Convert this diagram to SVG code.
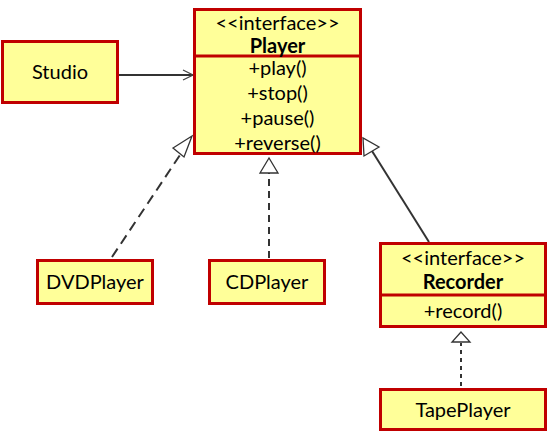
<svg xmlns="http://www.w3.org/2000/svg" width="548" height="436" viewBox="0 0 548 436">
<style>
.box{fill:#ffff99;stroke:#c00000;stroke-width:3}
.t{font-family:Lato,"Open Sans","Liberation Sans",sans-serif;font-size:20px;fill:#000;text-anchor:middle}
.b{font-weight:bold}
.c{fill:none;stroke:#333;stroke-width:2}
.head{fill:#fff;stroke:#333;stroke-width:1.3}
</style>
<defs>
<marker id="open" viewBox="0 0 12 12" refX="11" refY="6" markerWidth="12" markerHeight="12" markerUnits="userSpaceOnUse" orient="auto">
<path d="M1,1 L11,6 L1,11" fill="none" stroke="#444" stroke-width="1.2"/>
</marker>
</defs>
<rect width="548" height="436" fill="#fff"/>
<g id="connectors">
<line class="c" x1="118" y1="75" x2="193" y2="75" stroke="#555" stroke-width="1.2" marker-end="url(#open)"/>
<line class="c" x1="112" y1="257" x2="182" y2="152" stroke-dasharray="10,6"/>
<polygon class="head" points="192,136 173,148 184,157"/>
<line class="c" x1="269" y1="258" x2="269" y2="173" stroke-dasharray="7,5"/>
<polygon class="head" points="269,158 260,173 278,173"/>
<line class="c" x1="429" y1="242" x2="372" y2="151"/>
<polygon class="head" points="363,138 364,156 379,147"/>
<line class="c" x1="461" y1="386" x2="461" y2="343" stroke-dasharray="4,4"/>
<polygon class="head" points="461,332 452,342 470,342"/>
</g>
<g id="studio">
<rect class="box" x="2.5" y="41.5" width="115" height="61"/>
<text class="t" x="60" y="79">Studio</text>
</g>
<g id="player">
<rect class="box" x="194.5" y="9.5" width="166" height="144"/>
<line x1="194.5" y1="56" x2="360.5" y2="56" stroke="#c00000" stroke-width="3"/>
<text class="t" x="277.5" y="30">&lt;&lt;interface&gt;&gt;</text>
<text class="t b" x="277.5" y="53">Player</text>
<text class="t" x="277.5" y="75">+play()</text>
<text class="t" x="277.5" y="100">+stop()</text>
<text class="t" x="277.5" y="125">+pause()</text>
<text class="t" x="277.5" y="150">+reverse()</text>
</g>
<g id="dvdplayer">
<rect class="box" x="37.5" y="260.5" width="115" height="43"/>
<text class="t" x="95" y="289">DVDPlayer</text>
</g>
<g id="cdplayer">
<rect class="box" x="209.5" y="260.5" width="115" height="43"/>
<text class="t" x="267" y="289">CDPlayer</text>
</g>
<g id="recorder">
<rect class="box" x="380.5" y="243.5" width="165" height="83"/>
<line x1="380.5" y1="295" x2="545.5" y2="295" stroke="#c00000" stroke-width="3"/>
<text class="t" x="463" y="265">&lt;&lt;interface&gt;&gt;</text>
<text class="t b" x="463" y="289">Recorder</text>
<text class="t" x="463" y="318">+record()</text>
</g>
<g id="tapeplayer">
<rect class="box" x="380.5" y="389.5" width="165" height="40"/>
<text class="t" x="463" y="417">TapePlayer</text>
</g>
</svg>
